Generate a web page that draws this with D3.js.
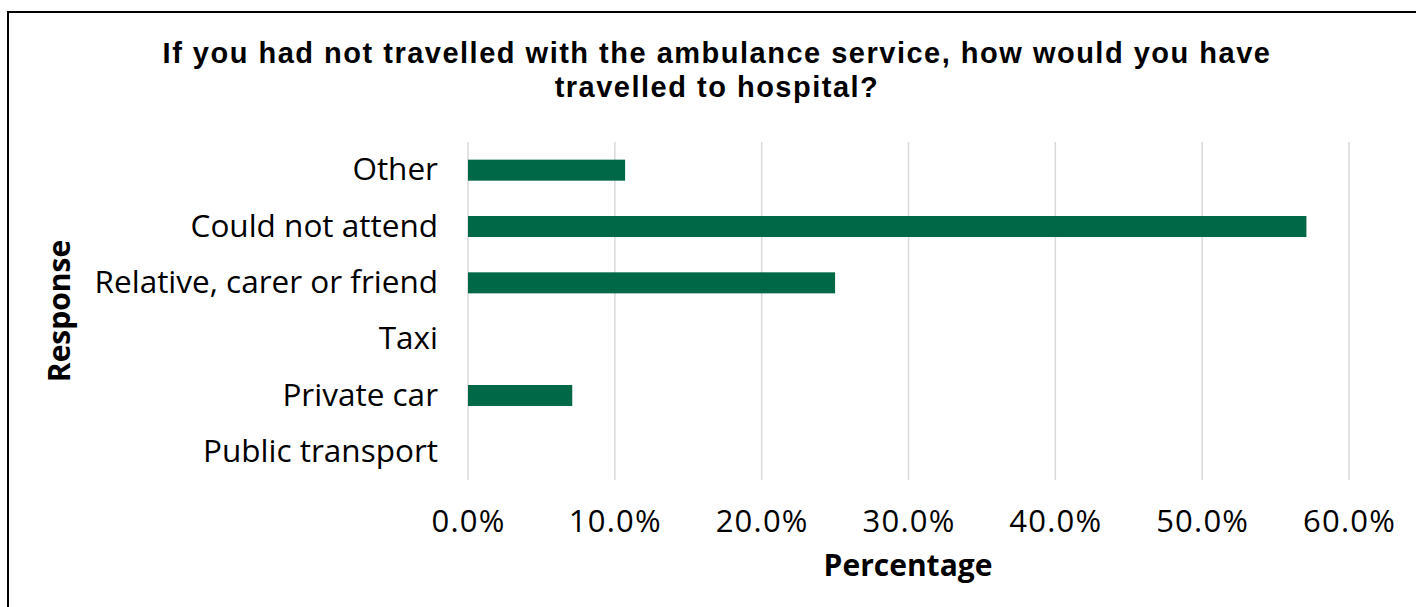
<!DOCTYPE html>
<html><head><meta charset="utf-8">
<script src="https://cdn.jsdelivr.net/npm/d3@7"></script>
<style>html,body{margin:0;padding:0;background:#fff;}svg{display:block;font-family:"Open Sans",sans-serif;}</style>
</head><body>
<svg id="chart" width="1416" height="607"></svg>
<script>
const categories = ["Other","Could not attend","Relative, carer or friend","Taxi","Private car","Public transport"];
const values = [10.7, 57.1, 25.0, 0, 7.1, 0];
const xTicks = [0,10,20,30,40,50,60];
const titleLines = ["If you had not travelled with the ambulance service, how would you have","travelled to hospital?"];

const svg = d3.select("#chart");
const W = 1416, H = 607;
const m = {left:468, right:1416-1349, top:142, bottom:607-480};

svg.append("rect").attr("x",8).attr("y",12).attr("width",1430).attr("height",620)
  .attr("fill","#fff").attr("stroke","#000").attr("stroke-width",2);

const x = d3.scaleLinear().domain([0,60]).range([m.left, W-m.right]);
const y = d3.scaleBand().domain(categories).range([m.top, H-m.bottom]).paddingInner(0.627).paddingOuter(0.3135);

// gridlines
svg.append("g").selectAll("line").data(xTicks).join("line")
  .attr("x1",d=>x(d)).attr("x2",d=>x(d)).attr("y1",m.top).attr("y2",H-m.bottom)
  .attr("stroke","#d9d9d9").attr("stroke-width",1.5);

// bars
svg.append("g").selectAll("rect").data(categories).join("rect")
  .attr("x",x(0)).attr("y",d=>y(d)).attr("height",y.bandwidth())
  .attr("width",(d,i)=>x(values[i])-x(0)).attr("fill","#006747");

// x axis
const xAxis = d3.axisBottom(x).tickValues(xTicks).tickFormat(d=>d.toFixed(1)+"%").tickSize(0).tickPadding(30);
const gx = svg.append("g").attr("transform",`translate(0,${H-m.bottom})`).call(xAxis);
gx.select(".domain").remove();
gx.selectAll("text").attr("font-family","Open Sans").attr("font-size",31).attr("letter-spacing",1.2).attr("fill","#000");

// y axis
const yAxis = d3.axisLeft(y).tickSize(0).tickPadding(30);
const gy = svg.append("g").attr("transform",`translate(${m.left},0)`).call(yAxis);
gy.select(".domain").remove();
gy.selectAll("text").attr("font-family","Open Sans").attr("font-size",31.5).attr("fill","#000");

// title (two lines)
svg.append("g").selectAll("text").data(titleLines).join("text")
  .attr("x",717).attr("y",(d,i)=>63+i*34).attr("text-anchor","middle")
  .attr("font-family","'Liberation Sans', Arial, sans-serif")
  .attr("letter-spacing",1.5)
  .attr("font-size",29).attr("font-weight","bold").text(d=>d);

svg.append("text").attr("x",908).attr("y",576).attr("text-anchor","middle")
  .attr("font-size",30).attr("font-weight","bold").text("Percentage");
svg.append("text").attr("transform","translate(70,311) rotate(-90)").attr("text-anchor","middle")
  .attr("font-size",30).attr("font-weight","bold").text("Response");
</script>
</body></html>
